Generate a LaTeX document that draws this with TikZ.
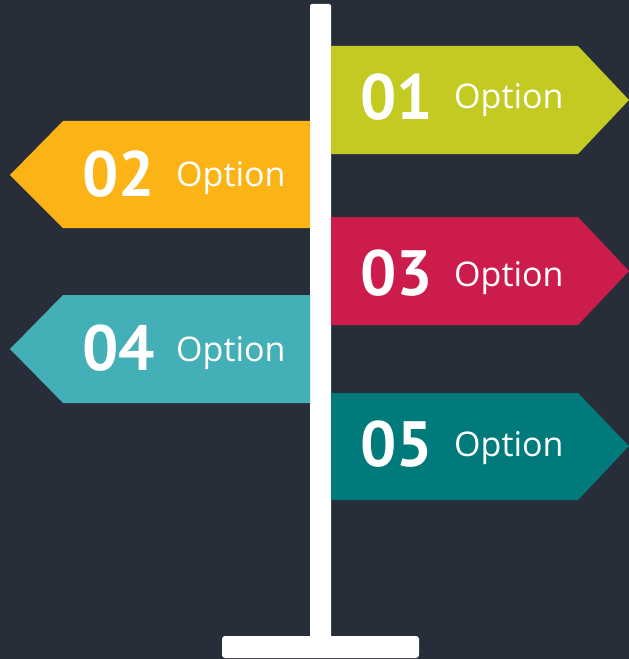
\documentclass[tikz,border=0pt]{standalone}
\usepackage{fontspec}
\setmainfont{Open Sans}
\newfontfamily\numfont{PT Sans}
\usepackage{tikz}
\usetikzlibrary{positioning, calc}

\definecolor{bgdark}{HTML}{282E39}
\definecolor{signlime}{HTML}{C3CA22}
\definecolor{signgold}{HTML}{FBB316}
\definecolor{signred}{HTML}{CB1C4B}
\definecolor{signaqua}{HTML}{43AFB6}
\definecolor{signteal}{HTML}{007A7B}

\tikzset{
    signnum/.style={inner sep=0pt, anchor=base west, text=white,
        font=\numfont\bfseries\fontsize{64bp}{70bp}\selectfont},
    signtext/.style={inner sep=0pt, anchor=base west, text=white,
        font=\fontsize{34bp}{40bp}\selectfont},
}

\begin{document}
\begin{tikzpicture}[x=1bp, y=-1bp]
    % Background
    \fill[bgdark] (0,0) rectangle (629,659);
    \useasboundingbox (0,0) rectangle (629,659);
    % Post and foot
    \fill[white, rounded corners=2bp] (310,4) rectangle (331,642);
    \fill[white, rounded corners=3bp] (222,636) rectangle (419,658);
    % Signs pointing right (01, 03, 05)
    \fill[signlime] (331,46) -- (578,46) -- (629,100) -- (578,154) -- (331,154) -- cycle;
    \fill[signred]  (331,217) -- (578,217) -- (629,271) -- (578,325) -- (331,325) -- cycle;
    \fill[signteal] (331,393) -- (578,393) -- (629,446) -- (578,500) -- (331,500) -- cycle;
    % Signs pointing left (02, 04)
    \fill[signgold] (310,121) -- (63,121) -- (10,175) -- (63,228) -- (310,228) -- cycle;
    \fill[signaqua] (310,295) -- (63,295) -- (10,349) -- (63,403) -- (310,403) -- cycle;
    % Labels
    \node[signnum]  (n1) at (360,120) {01};
    \node[signtext] (t1) at (454,109) {Option};
    \node[signnum]  (n2) at (82,196) {02};
    \node[signtext] (t2) at (176,186) {Option};
    \node[signnum]  (n3) at (360,295) {03};
    \node[signtext] (t3) at (454,286) {Option};
    \node[signnum]  (n4) at (82,370) {04};
    \node[signtext] (t4) at (176,361) {Option};
    \node[signnum]  (n5) at (360,466) {05};
    \node[signtext] (t5) at (454,456) {Option};
\end{tikzpicture}
\end{document}
